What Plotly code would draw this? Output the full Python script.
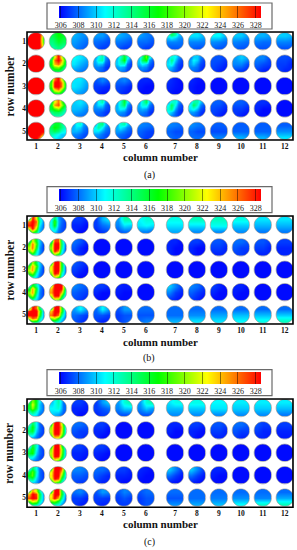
import math
import plotly.graph_objects as go

COLUMN_LABELS = ["1","2","3","4","5","6","7","8","9","10","11","12"]
COLUMN_POSITIONS = [1,2,3,4,5,6,7.33,8.33,9.33,10.33,11.33,12.33]
ROW_LABELS = ["1","2","3","4","5"]
ROW_POSITIONS = [1,2,3,4,5]
COLORBAR_TICKS = [306,308,310,312,314,316,318,320,322,324,326,328]
CAPTIONS = ["(a)","(b)","(c)"]

COLD = [[306,306,306],[306,306,306],[306,306,306]]
RED = [[329,329,329],[329,329,329],[329,329,329]]

PANEL_A = [
 [
  [[329,329,329,329,321],[329,329,329,329,318],[329,329,329,329,318],[329,329,329,329,320],[329,329,329,329,324]],
  [[315,317,316],[314,316,315],[313,314,313]],
  [[309.5,309,308.5],[309,308.5,308],[308.5,308,307.5]],
  [[309,309,308],[308,307.8,307.3],[307.5,307,307]],
  [[309.5,309,308.5],[308.3,308,307.5],[307.5,307,307]],
  [[309,308.5,308],[308,308,307.5],[307.5,307,307]],
  [[312,315,313,310,309],[310,311,310,309,308.5],[308.5,308.5,308.5,308.3,308],[308,308,308,308,308],[307.5,307.5,307.5,307.5,307.5]],
  [[310.5,310.5,309.5],[308.5,308.5,308.3],[307.8,307.5,307.5]],
  [[311,311,309.5],[308.7,308.5,308],[307.8,307.5,307.5]],
  [[310,310,309],[308.5,308.3,308],[307.8,307.5,307.5]],
  [[309.5,309.5,309],[308.3,308,308],[307.5,307.5,307.5]],
  [[310,310,309.5],[308.5,308.5,308.3],[307.5,307.5,307.5]],
 ],
 [
  RED,
  [[314,322,329,322,315],[316,326,329,325,316],[317,324,326,322,315],[316,319,320,317,313],[314,315,315,314,312]],
  [[311,310.5,309.5],[310.5,309.5,308.7],[309,308.5,308]],
  [[309,311,313,309,307.5],[309.5,312,313,308.5,307.3],[309,310,309.5,307.5,307],[308.5,308.5,308,307,306.5],[308,308,307.5,307,306.5]],
  [[309.5,312,316,312,308],[310,313,317,310,307.5],[310,312,312,308,307],[309,309.5,309,307.5,306.8],[308.5,308.5,308,307,306.5]],
  [[310,314,319,312,308],[310,315,317,309,307.5],[309.5,311,310,308,307],[308.5,309,308.5,307.3,306.8],[308,308,307.5,307,306.5]],
  [[309,312,311,309,307.5],[310,314,310,308,307],[310.5,312,308.5,307.3,306.8],[310,309.5,308,307,306.5],[309,308.5,307.5,307,306.5]],
  [[308,310,310,308.5,307.5],[309,311,310,308,307],[309,310,308.5,307.3,306.8],[308.5,308.5,308,307,306.5],[308,308,307.5,306.8,306.5]],
  [[307.5,307.5,307],[307.3,307,306.5],[307,306.5,306.2]],
  [[309,310,309],[308.5,308.5,307.3],[307.3,307,306.5]],
  [[308.5,308.5,307.3],[307.8,307.3,307],[307,306.5,306.2]],
  [[307.3,307.3,307],[307,307,306.5],[307,306.5,306.5]],
 ],
 [
  RED,
  [[317,326,329,322,315],[318,329,329,326,316],[318,329,329,326,316],[316,323,326,320,314],[314,316,316,315,312]],
  [[310.5,310.5,309.5],[310.5,310,309],[309.5,309,308.5]],
  [[307.5,308.5,307.5],[307,306.8,306.5],[306.7,306.2,306.2]],
  [[308,308.5,307.5],[307.3,307,306.5],[307,306.5,306.2]],
  [[306.5,306.5,306.3],[306.3,306,306],[306,306,306]],
  [[306.7,306.3,306],[306.5,306.2,306],[306.3,306,306]],
  [[306.5,306.2,306],[306.3,306,306],[306.3,306,306]],
  COLD, COLD, COLD, COLD,
 ],
 [
  RED,
  [[316,322,326,319,314],[316,325,327,321,315],[316,318,320,316,313],[314,315,315,314,312],[312,313,313,312,311]],
  [[310,310.5,309.5],[309.7,309.5,308.5],[308.7,308.3,308]],
  [[308.5,311,313,309,307.5],[309,310.5,310.5,308,307],[308.5,308.5,308.5,307.5,307],[308,308,307.5,307,306.5],[307.5,307.5,307.3,306.8,306.5]],
  [[309.5,312,316,311,308],[309.5,312.5,315,309,307.5],[309.5,311,310.5,308,307],[309,309,308.5,307.5,306.8],[308.5,308,307.8,307,306.5]],
  [[309,312,315,310,307.5],[309.5,312,312,308.5,307.3],[309,309.5,309,307.5,307],[308.5,308.5,308,307,306.5],[307.8,307.8,307.5,307,306.5]],
  [[309,312,312,309,307.5],[311,315,311,308,307],[312,314,309,307.3,306.8],[311,310,308,307,306.5],[309.5,308.5,307.5,307,306.5]],
  [[310,313,313,310,308],[311,315,312,308.5,307.3],[310.5,311.5,309.5,307.5,306.8],[309,309,308,307,306.5],[308,308,307.5,306.8,306.5]],
  [[307.7,307.7,307],[307.3,307,306.5],[307,306.5,306]],
  [[307.7,307.7,307.3],[307,307,306.5],[306.8,306.4,306]],
  [[306.7,306.7,306.5],[306.5,306,306],[306,306,306]],
  COLD,
 ],
 [
  [[329,329,329,329,329],[329,329,329,329,329],[329,329,329,329,329],[329,329,329,329,325],[329,329,329,326,315]],
  [[314,316,316,314,312],[315,317,316,314,312],[314,315,314,312,311],[313,312,311,310,310],[311,311,310,310,309]],
  [[309,311,312,309,308],[309.5,310.5,310,308.5,307.7],[309.5,309.5,309,308,307.5],[308.5,308.5,308,307.5,307.2],[308,307.8,307.5,307.2,307]],
  [[309,313,314,310,308],[311,313.5,311,308.8,307.8],[310.5,310.5,309,308,307.5],[309,308.8,308,307.5,307.2],[308.3,308,307.7,307.3,307]],
  [[309,312,313,310,308.3],[309.5,311,309.8,308.5,307.8],[309,309,308.3,307.8,307.3],[308.3,308,307.7,307.3,307],[308,307.7,307.3,307,307]],
  [[308.5,308.3,308],[307.8,307.3,307],[307.5,307,307]],
  [[308.5,308.3,308],[307.8,307.3,307.3],[308,307.7,307.7]],
  [[308.7,308.3,308],[307.8,307.3,307.3],[308,308,308]],
  [[307.7,307.7,307.7],[307.3,307.3,307.3],[308.5,308.5,308.5]],
  [[307.7,307.7,307.7],[307.8,307.8,307.8],[309.5,309.5,309]],
  [[307.7,307.7,307.7],[307.8,307.8,307.8],[309.5,309.5,309]],
  [[307.7,307.7,307.7],[308.7,308.7,308.7],[310.5,310.5,310.5]],
 ],
]

PANEL_B = [
 [
  [[314,329,322,312,309],[326,329,326,313,308.5],[328,329,324,311,308],[322,329,320,310,308],[313,318,314,309.5,308]],
  [[310,315,309,308,307.5],[311.5,318,309.5,308,307],[311.5,317,309,307.7,307],[311,313,308.5,307.5,307],[309.5,310,308,307.5,307]],
  [[307,307,306.5],[306.5,306.5,306],[306.5,306,306]],
  [[307,309.5,310.5],[307,308,308.5],[306.5,307,307.3]],
  [[309,313,313],[308.5,310.5,310],[307.5,308,308]],
  [[311,312,312],[310.5,311,310.5],[308.5,308.5,308]],
  [[311.5,311.5,311.5],[310.5,310.5,310.5],[309.3,309.3,309.3]],
  [[312.5,312.5,312.5],[310.5,310.5,310.5],[308.7,308.7,308.7]],
  [[312.5,312.5,312.5],[311.3,311.3,311.3],[308.7,308.7,308.7]],
  [[311.5,311.5,311.5],[310,310,310],[308.7,308.7,308.7]],
  [[310.5,310.5,310.5],[309.5,309.5,309.5],[308.3,308.3,308.3]],
  [[310.5,310.5,310.5],[309.5,309.5,309.5],[308.3,308.3,308.3]],
 ],
 [
  [[313,322,316,310,307.5],[318,326,318,310,307],[321,326,316,309,307],[319,323,313,309,307],[312,314,311,308.5,307]],
  [[313,327,327,314,308],[318,329,329,315,308],[320,329,329,314,307.5],[318,329,325,312,307.5],[313,319,315,310,307.5]],
  [[308,307.5,306.5],[307.5,306.5,306],[307,306.5,306]],
  COLD, COLD, COLD,
  [[306.5,306.5,306],[306.5,306,306],[306.5,306,306]],
  [[307,307,306.5],[306.5,306,306],[306.5,306,306]],
  [[307.5,307.5,307],[307,307,306.5],[306.5,306.5,306.5]],
  [[308,308,307.5],[307.5,307,307],[307,307,306.5]],
  [[307.5,307.5,307],[307,307,306.5],[306.5,306.5,306.5]],
  [[307,307,307],[306.5,306.5,306.5],[306.5,306.5,306.5]],
 ],
 [
  [[313,321,315,310,307.5],[318,325,318,310,307],[321,325,315,309,307],[318,320,312,308.5,307],[312,313,310,308,307]],
  [[316,329,329,317,308],[322,329,329,317,308],[322,329,329,316,308],[320,329,327,313,308],[315,322,318,311,308]],
  [[307.5,307,306.5],[307,306.5,306],[306.5,306,306]],
  COLD, COLD, COLD, COLD, COLD, COLD, COLD, COLD, COLD,
 ],
 [
  [[311,317,313,309,307],[316,325,316,309,307],[320,325,314,308.5,307],[318,321,312,308.5,307],[311,313,310,308,307]],
  [[320,329,329,329,316],[324,329,329,329,314],[325,329,329,324,312],[321,329,329,318,310],[315,321,319,313,309]],
  [[308.5,308,307.5],[307.7,307.3,307],[307.3,307,306.5]],
  [[307,307,306.5],[306.5,306,306],[306,306,306]],
  [[306.5,306.3,306.3],[306.3,306,306],[306,306,306]],
  COLD,
  [[310,308.5,307],[308.5,307,306.5],[307,306.5,306]],
  [[308.5,308,307],[307.7,307,306.5],[307,306.5,306]],
  [[307,306.5,306],[306.5,306,306],[306,306,306]],
  [[306.5,306.5,306],[306.3,306,306],[306,306,306]],
  COLD, COLD,
 ],
 [
  [[318,329,326,315,309],[328,329,329,320,309.5],[329,329,329,318,309],[322,327,325,314,309],[313,315,314,311,308.5]],
  [[316,329,329,318,310],[324,329,329,318,309],[326,329,326,314,308.5],[320,322,317,311,308],[313,313,311,309,308]],
  [[309,311,309],[308,307.5,307],[307.5,307,306.5]],
  [[308,311,309],[307.5,307.5,307],[307,306.5,306.5]],
  [[307.5,309,309],[307,307.5,307.5],[307,307.5,308]],
  [[308,308,308],[307.5,307.5,307.5],[308,308.5,308.5]],
  [[308,308,308],[308,308,308],[309.5,309.5,309.5]],
  [[308,308,308],[308.7,308.7,308.7],[310.5,310.5,310.5]],
  [[308,308,308],[309.2,309.2,309.2],[310.5,310.5,310.5]],
  [[308,308,308],[309.7,309.7,309.7],[311,311,311]],
  [[308,308,308],[309.7,309.7,309.7],[311.5,311.5,311.5]],
  [[308,308,308],[310,310,310],[312.5,312.5,312.5]],
 ],
]

PANEL_C = [
 [
  [[314,320,316,311,308],[316,322,316,310,308],[316,320,315,310,308],[313,315,312,309,308],[310,311,310,308,307.5]],
  [[310,313,308],[311,312,308],[310,309,307.5]],
  [[307,307,306.5],[306.5,306.5,306.3],[306.5,306,306]],
  [[307,309,310],[307,307.5,308],[306.5,307,307]],
  [[309,312,313],[308.5,310,310],[307.5,307.5,307.5]],
  [[309,312,313],[308.5,310,309],[307.5,307.5,307.5]],
  [[310.5,311.5,311.5],[309.7,309.7,309.7],[308.7,308.7,308.7]],
  [[311.5,311.5,311.5],[310,310,310],[308.7,308.7,308.7]],
  [[311,311,311],[310.5,310.5,310.5],[308.7,308.7,308.7]],
  [[310.7,310.7,310.7],[310,310,310],[308.7,308.7,308.7]],
  [[310.7,310.7,310.7],[310,310,310],[308.7,308.7,308.7]],
  [[310.7,310.7,310.7],[309.7,309.7,309.7],[308.3,308.3,308.3]],
 ],
 [
  [[311,315,311,308,307],[313,317,311,308,307],[315,316,310,308,307],[313,313,309,307.5,307],[309,309,308,307.5,307]],
  [[316,329,329,322,311],[320,329,329,324,311],[321,329,329,323,311],[320,329,329,321,311],[316,323,322,316,310]],
  [[308,308,307.5],[307.5,307,307],[307,307,306.5]],
  [[307,307,306.5],[306.5,306.5,306],[306.5,306,306]],
  COLD, COLD,
  [[306.5,306.5,306.5],[306.5,306,306],[306,306,306]],
  [[307,307,306.5],[306.5,306.3,306],[306.5,306,306]],
  [[307.5,307.5,307],[307,307,306.5],[306.5,306.5,306.5]],
  [[308,308,307.5],[307.5,307,307],[307,306.5,306.5]],
  [[307.5,307,307],[307,306.5,306.5],[306.5,306.5,306.3]],
  [[307,307,307],[306.5,306.5,306.5],[306.3,306.3,306.3]],
 ],
 [
  [[310,316,312,308,307],[314,318,311,308,307],[316,317,310,308,307],[313,312,309,307.5,307],[309,309,308,307.5,307]],
  [[316,329,329,318,310],[320,329,329,321,310],[321,329,329,320,310],[320,329,328,318,310],[315,322,319,314,309]],
  [[307,307,306.5],[306.5,306.5,306.3],[306.5,306.3,306]],
  [[307,307,306.5],[306.5,306.3,306],[306.3,306,306]],
  COLD, COLD, COLD, COLD, COLD, COLD, COLD, COLD,
 ],
 [
  [[310,315,311,308,307],[315,319,312,308,307],[317,319,311,308,307],[314,315,310,308,307],[310,310,309,307.5,307]],
  [[317,329,329,327,314],[322,329,329,324,312],[323,329,329,320,311],[321,329,327,316,310],[315,319,316,312,309]],
  [[308.5,308.5,308],[307.7,307.7,307.3],[307.3,307,307]],
  [[308,308,307.5],[307.5,307,306.5],[307,306.5,306.5]],
  [[307,307,306.5],[306.5,306.5,306.3],[306.3,306,306]],
  [[306.5,306.3,306],[306.3,306,306],[306,306,306]],
  [[310,308.5,307],[308,307,306.3],[306.5,306.2,306]],
  [[310,308.5,307],[308,307,306.3],[306.5,306.2,306]],
  [[306.5,306.5,306.3],[306.3,306,306],[306,306,306]],
  COLD, COLD, COLD,
 ],
 [
  [[317,325,321,313,309],[324,329,327,316,309],[327,329,328,315,309],[319,323,321,313,309],[311,313,312,310,308]],
  [[315,329,329,316,309],[322,329,329,317,309],[323,329,324,314,308],[319,320,316,311,308],[312,312,311,309,308]],
  [[308,308.5,307.5],[307,307,306.5],[307,306.5,306.3]],
  [[307.5,309,308.5],[307,307,306.8],[306.8,306.5,306.5]],
  [[307.5,308.5,308],[307,307.5,307],[307,307,307]],
  [[307.5,308,308],[307,307.5,307.5],[307,307.5,307.5]],
  [[308,308,308],[307.5,307.5,307.5],[308.7,308.7,308.7]],
  [[308,308,308],[308,308,308],[309.2,309.2,309.2]],
  [[308,308,308],[308.3,308.3,308.3],[309.7,309.7,309.7]],
  [[308,308,308],[308.7,308.7,308.7],[311,311,311]],
  [[308,308,308],[308.5,308.5,308.5],[312,312,312]],
  [[308,308,308],[309.3,309.3,309.3],[312.5,312.5,312.5]],
 ],
]
PANELS = [PANEL_A, PANEL_B, PANEL_C]

W, H = 297, 550
COLORSCALE = [[0,"rgb(0,0,255)"],[0.228,"rgb(0,255,255)"],[0.491,"rgb(0,255,0)"],[0.732,"rgb(255,255,0)"],[1,"rgb(255,0,0)"]]
CMIN, CMAX = 305.8, 328.6
SERIF = "Liberation Serif"

# layout, in window pixels, one entry per panel
LAYOUT = [
 dict(top=32, bottom=140, row1=41.3, lbox=(3,29), strip=5.5, xt=157, cap=174.7),
 dict(top=216, bottom=324, row1=225, lbox=(186.7,212.7), strip=189.3, xt=341.7, cap=358),
 dict(top=399, bottom=507.3, row1=408, lbox=(369.7,395.7), strip=372.3, xt=524.3, cap=541.7),
]
LEFT, RIGHT = 27, 293
COL1 = 36.0
COL_PX = 21.96
ROW_PX = 22.4
RADIUS_PX = 8.7

def px(x): return x / W
def py(y): return 1 - y / H

fig = go.Figure()
shapes, annotations = [], []
for p, (grid, L, cap) in enumerate(zip(PANELS, LAYOUT, CAPTIONS)):
    suffix = "" if p == 0 else str(p + 1)
    xa, ya = "x" + suffix, "y" + suffix
    ca = "coloraxis" + suffix
    rx, ry = RADIUS_PX / COL_PX, RADIUS_PX / ROW_PX
    for r, row in enumerate(grid):
        for c, disc in enumerate(row):
            cx, cy = COLUMN_POSITIONS[c], ROW_POSITIONS[r]
            n = len(disc)
            xs = [cx - rx + (i + 0.5) * 2 * rx / n for i in range(n)]
            ys = [cy - ry + (i + 0.5) * 2 * ry / n for i in range(n)]
            fig.add_trace(go.Heatmap(z=disc, x=xs, y=ys, coloraxis=ca, zsmooth="best",
                                     xaxis=xa, yaxis=ya, hoverinfo="skip"))
    x0 = 1 + (LEFT - COL1) / COL_PX
    x1 = 1 + (RIGHT - COL1) / COL_PX
    y0 = 1 + (L["top"] - L["row1"]) / ROW_PX
    y1 = 1 + (L["bottom"] - L["row1"]) / ROW_PX
    fig.update_layout({
        "xaxis" + suffix: dict(domain=[px(LEFT), px(RIGHT)], range=[x0, x1], anchor=ya, showgrid=False,
                               zeroline=False, ticks="", tickvals=COLUMN_POSITIONS,
                               ticktext=[f"<b>{t}</b>" for t in COLUMN_LABELS],
                               tickfont=dict(family=SERIF, size=7.5, color="#111")),
        "yaxis" + suffix: dict(domain=[py(L["bottom"]), py(L["top"])], range=[y1, y0], anchor=xa, showgrid=False,
                               zeroline=False, ticks="", tickvals=ROW_POSITIONS,
                               ticktext=[f"<b>{t}</b>" for t in ROW_LABELS],
                               tickfont=dict(family=SERIF, size=7.5, color="#111")),
        ca: dict(cmin=CMIN, cmax=CMAX, colorscale=COLORSCALE, showscale=True,
                 colorbar=dict(orientation="h", x=px(160), xanchor="center", y=py(L["strip"]), yanchor="top",
                               lenmode="pixels", len=202, thicknessmode="pixels", thickness=12,
                               xpad=0, ypad=0, outlinewidth=0, borderwidth=0,
                               tickmode="array", tickvals=COLORBAR_TICKS,
                               ticks="inside", ticklen=12, tickwidth=0.5, tickcolor="rgba(0,0,0,0.45)",
                               tickfont=dict(family=SERIF, size=8, color="#222"))),
    })
    # white mask with circular holes; its outline draws the disc rims
    path = f"M{x0},{y0}L{x1},{y0}L{x1},{y1}L{x0},{y1}Z"
    for cy in ROW_POSITIONS:
        for cx in COLUMN_POSITIONS:
            pts = [(cx + rx * math.cos(2 * math.pi * k / 36), cy + ry * math.sin(2 * math.pi * k / 36)) for k in range(36)]
            path += "M" + "L".join(f"{a:.3f},{b:.3f}" for a, b in pts) + "Z"
    shapes.append(dict(type="path", path=path, xref=xa, yref=ya, fillcolor="white", layer="above",
                       line=dict(color="#8a8a8a", width=0.6)))
    shapes.append(dict(type="rect", xref="paper", yref="paper", x0=px(LEFT), x1=px(RIGHT),
                       y0=py(L["bottom"]), y1=py(L["top"]), layer="above", line=dict(color="black", width=1.6)))
    shapes.append(dict(type="rect", xref="paper", yref="paper", x0=px(47), x1=px(272),
                       y0=py(L["lbox"][1]), y1=py(L["lbox"][0]), layer="below",
                       line=dict(color="#6a6a6a", width=1.2), fillcolor="white"))
    annotations.append(dict(text="<b>column number</b>", xref="paper", yref="paper", x=px(160), y=py(L["xt"]),
                            xanchor="center", yanchor="middle", showarrow=False,
                            font=dict(family=SERIF, size=11, color="#111")))
    annotations.append(dict(text=cap, xref="paper", yref="paper", x=px(149), y=py(L["cap"]),
                            xanchor="center", yanchor="middle", showarrow=False,
                            font=dict(family=SERIF, size=10, color="#111")))
    annotations.append(dict(text="<b>row number</b>", xref="paper", yref="paper", x=px(9.5),
                            y=py((L["top"] + L["bottom"]) / 2), xanchor="center", yanchor="middle",
                            textangle=-90, showarrow=False, font=dict(family=SERIF, size=11.5, color="#111")))

fig.update_layout(width=W, height=H, margin=dict(l=0, r=0, t=0, b=0, autoexpand=False),
                  paper_bgcolor="white", plot_bgcolor="white", showlegend=False,
                  shapes=shapes, annotations=annotations)
fig.write_html("out.html", config={"displayModeBar": False},
               post_script="document.body.style.margin='0';document.documentElement.style.overflow='hidden';")
